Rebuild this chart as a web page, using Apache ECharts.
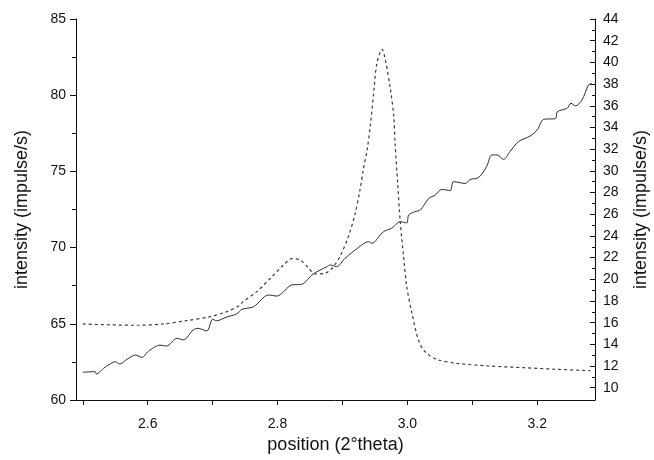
<!DOCTYPE html>
<html>
<head>
<meta charset="utf-8">
<script src="https://cdn.jsdelivr.net/npm/echarts@6/dist/echarts.min.js"></script>
<style>
  html, body { margin: 0; padding: 0; background: #fff; }
  #chart { width: 654px; height: 460px; }
</style>
</head>
<body>
<div id="chart"></div>
<script>
// solid trace (left axis)
var solidX = [2.500, 2.519, 2.521, 2.532, 2.542, 2.550, 2.557, 2.568, 2.581, 2.591,
  2.601, 2.619, 2.629, 2.645, 2.655, 2.670, 2.678, 2.691, 2.700, 2.706,
  2.722, 2.737, 2.745, 2.763, 2.786, 2.799, 2.822, 2.837, 2.855, 2.876,
  2.881, 2.891, 2.904, 2.925, 2.940, 2.945, 2.963, 2.976, 2.989, 2.999,
  3.002, 3.012, 3.020, 3.033, 3.043, 3.053, 3.066, 3.071, 3.089, 3.097,
  3.110, 3.122, 3.130, 3.138, 3.148, 3.158, 3.171, 3.189, 3.200, 3.210,
  3.228, 3.231, 3.246, 3.252, 3.259, 3.269, 3.279, 3.284]
var solidY = [61.82, 61.86, 61.70, 62.08, 62.36, 62.51, 62.36, 62.67, 62.95, 62.80,
  63.20, 63.60, 63.54, 64.05, 63.94, 64.60, 64.70, 64.53, 65.30, 65.20,
  65.45, 65.65, 65.95, 66.12, 66.89, 66.82, 67.55, 67.59, 68.27, 68.75,
  68.86, 68.75, 69.30, 70.02, 70.39, 70.28, 71.04, 71.27, 71.70, 71.62,
  72.14, 72.36, 72.47, 73.23, 73.45, 73.82, 73.74, 74.33, 74.21, 74.47,
  74.61, 75.31, 76.08, 76.08, 75.79, 76.30, 76.95, 77.32, 77.72, 78.42,
  78.46, 78.92, 79.14, 79.47, 79.30, 79.69, 80.67, 80.77]

// dashed trace (right axis)
var dashX = [2.500, 2.530, 2.583, 2.624, 2.660, 2.696, 2.722, 2.740, 2.747, 2.768,
  2.789, 2.809, 2.822, 2.835, 2.848, 2.858, 2.873, 2.884, 2.896, 2.909,
  2.919, 2.927, 2.932, 2.938, 2.943, 2.948, 2.953, 2.961, 2.966, 2.974,
  2.979, 2.981, 2.985, 2.989, 2.994, 2.999, 3.007, 3.017, 3.027, 3.045,
  3.076, 3.128, 3.179, 3.230, 3.282]
var dashY = [15.88, 15.82, 15.76, 15.88, 16.19, 16.55, 17.02, 17.54, 17.94, 18.86,
  20.10, 21.32, 21.90, 21.78, 21.02, 20.49, 20.56, 21.02, 22.09, 23.93,
  25.94, 28.24, 30.09, 31.93, 34.24, 37.16, 39.93, 41.20, 40.24, 37.47,
  35.00, 32.55, 28.86, 25.30, 22.20, 19.32, 16.87, 14.40, 13.33, 12.62,
  12.25, 12.00, 11.85, 11.70, 11.57]

// tick labels
var xLabels = [2.6, 2.8, 3.0, 3.2]
var xTicks = [2.5, 2.6, 2.7, 2.8, 2.9, 3.0, 3.1, 3.2]
var rightLabels = [10, 12, 14, 16, 18, 20, 22, 24, 26, 28, 30, 32, 34, 36, 38, 40, 42, 44]
var rightMinor = [11, 13, 15, 17, 19, 21, 23, 25, 27, 29, 31, 33, 35, 37, 39, 41, 43]

var font = 'Liberation Sans'
var ink = '#111'

function pairs(xs, ys) {
  return xs.map(function (x, i) { return [x, ys[i]] })
}

var chart = echarts.init(document.getElementById('chart'))
chart.setOption({
  animation: false,
  textStyle: { fontFamily: font },
  grid: { left: 76, right: 59, top: 19, bottom: 60, containLabel: false, outerBoundsMode: 'none' },
  xAxis: {
    type: 'value',
    min: 2.4895,
    max: 3.289,
    name: 'position (2°theta)',
    nameLocation: 'middle',
    nameGap: 34,
    nameTextStyle: { color: ink, fontSize: 18, fontFamily: font },
    axisLine: { show: true, lineStyle: { color: ink, width: 1 } },
    axisTick: { show: true, customValues: xTicks, length: 5, lineStyle: { color: ink } },
    axisLabel: {
      customValues: xLabels,
      color: ink, fontSize: 14, margin: 17, fontFamily: font,
      formatter: function (v) { return v.toFixed(1) }
    },
    splitLine: { show: false }
  },
  yAxis: [
    {
      type: 'value',
      position: 'left',
      min: 60,
      max: 85,
      interval: 5,
      name: 'intensity (impulse/s)',
      nameLocation: 'middle',
      nameGap: 45,
      nameTextStyle: { color: ink, fontSize: 18, fontFamily: font },
      axisLine: { show: true, lineStyle: { color: ink, width: 1 } },
      axisTick: { show: true, length: 6, lineStyle: { color: ink } },
      minorTick: { show: true, splitNumber: 2, length: 4, lineStyle: { color: ink } },
      axisLabel: { color: ink, fontSize: 14, margin: 10, fontFamily: font },
      splitLine: { show: false }
    },
    {
      type: 'value',
      position: 'right',
      min: 8.87,
      max: 44,
      name: 'intensity (impulse/s)',
      nameLocation: 'middle',
      nameGap: 37,
      nameRotate: 90,
      nameTextStyle: { color: ink, fontSize: 18, fontFamily: font },
      axisLine: { show: true, lineStyle: { color: ink, width: 1 } },
      axisTick: { show: true, inside: true, customValues: rightLabels, length: 5, lineStyle: { color: ink } },
      axisLabel: { customValues: rightLabels, color: ink, fontSize: 14, margin: 8, fontFamily: font },
      splitLine: { show: false }
    },
    {
      type: 'value',
      position: 'right',
      min: 8.87,
      max: 44,
      axisLine: { show: false },
      axisTick: { show: true, inside: true, customValues: rightMinor, length: 3, lineStyle: { color: ink } },
      axisLabel: { show: false },
      splitLine: { show: false }
    }
  ],
  series: [
    {
      name: 'solid',
      type: 'line',
      yAxisIndex: 0,
      showSymbol: false,
      smooth: 0.3,
      lineStyle: { color: '#2a2a2a', width: 1 },
      data: pairs(solidX, solidY)
    },
    {
      name: 'dashed',
      type: 'line',
      yAxisIndex: 1,
      showSymbol: false,
      smooth: 0.3,
      lineStyle: { color: '#3a3a3a', width: 1.2, type: [3, 3] },
      data: pairs(dashX, dashY)
    }
  ]
})
</script>
</body>
</html>
